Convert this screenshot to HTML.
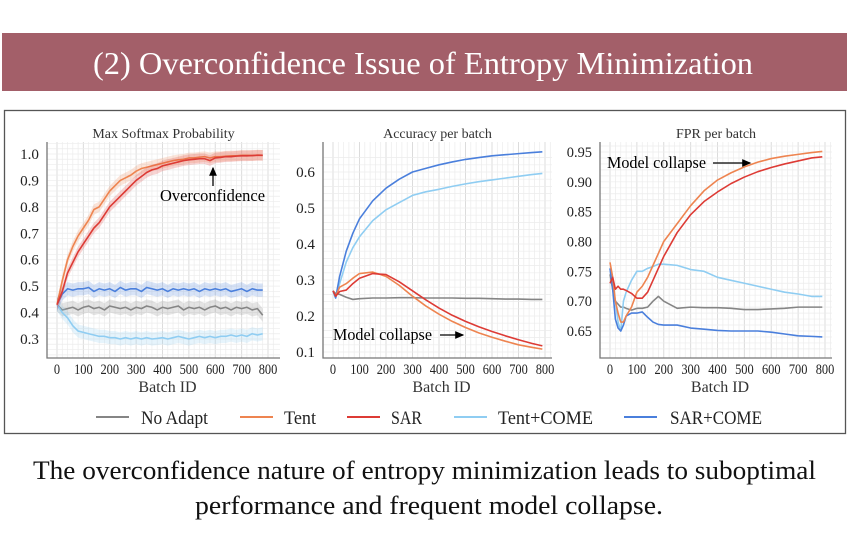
<!DOCTYPE html>
<html><head><meta charset="utf-8">
<style>
html,body{margin:0;padding:0;background:#fff;width:849px;height:555px;overflow:hidden;font-family:"Liberation Serif",serif;}
svg text{font-family:"Liberation Serif",serif;}
</style></head>
<body>
<svg id="root" width="849" height="555" xmlns="http://www.w3.org/2000/svg">
  <rect x="2" y="33" width="845" height="58" fill="#a35f69"/>
  <text x="93" y="74" textLength="660" lengthAdjust="spacingAndGlyphs" fill="#fff" font-size="32">(2) Overconfidence Issue of Entropy Minimization</text>
  <rect x="4.5" y="110.5" width="841" height="323" fill="none" stroke="#555" stroke-width="1.3"/>
  <g id="charts"></g>
  <g id="legend"></g>
  <text x="33" y="479" textLength="783" lengthAdjust="spacingAndGlyphs" font-size="26" fill="#111">The overconfidence nature of entropy minimization leads to suboptimal</text>
  <text x="195" y="514" textLength="468" lengthAdjust="spacingAndGlyphs" font-size="26" fill="#111">performance and frequent model collapse.</text>
</svg>
<script>
// ---- Chart 1: Max Softmax Probability ----
const c1x = [0,20,40,60,80,100,120,140,160,180,200,220,240,260,280,300,320,340,360,380,400,420,440,460,480,500,520,540,560,580,600,620,640,660,680,700,720,740,760,780];
const c1Tent = [0.43,0.52,0.60,0.65,0.69,0.72,0.75,0.79,0.80,0.83,0.86,0.88,0.90,0.91,0.92,0.935,0.945,0.95,0.955,0.96,0.965,0.97,0.975,0.978,0.98,0.985,0.985,0.988,0.99,0.985,0.99,0.99,0.992,0.993,0.993,0.995,0.995,0.994,0.996,0.995];
const c1SAR = [0.43,0.48,0.55,0.59,0.63,0.66,0.69,0.72,0.74,0.77,0.80,0.82,0.84,0.86,0.88,0.90,0.915,0.93,0.94,0.945,0.955,0.96,0.965,0.97,0.975,0.978,0.98,0.982,0.982,0.975,0.985,0.987,0.99,0.99,0.992,0.993,0.993,0.994,0.995,0.995];
const c1TentCome = [0.43,0.40,0.38,0.35,0.33,0.325,0.32,0.315,0.31,0.31,0.305,0.305,0.30,0.305,0.30,0.305,0.30,0.305,0.30,0.302,0.305,0.30,0.305,0.31,0.305,0.30,0.305,0.31,0.305,0.31,0.305,0.31,0.31,0.315,0.31,0.315,0.31,0.32,0.315,0.32];
const c1SarCome = [0.43,0.47,0.49,0.485,0.49,0.49,0.495,0.48,0.49,0.485,0.49,0.48,0.495,0.485,0.49,0.49,0.48,0.495,0.49,0.485,0.49,0.48,0.49,0.485,0.49,0.485,0.49,0.48,0.49,0.485,0.49,0.485,0.49,0.48,0.485,0.49,0.48,0.49,0.485,0.485];
const c1NoAdapt = [0.43,0.41,0.415,0.42,0.41,0.42,0.425,0.415,0.42,0.41,0.425,0.42,0.415,0.42,0.41,0.42,0.415,0.425,0.42,0.41,0.42,0.415,0.42,0.425,0.41,0.42,0.415,0.42,0.41,0.42,0.425,0.415,0.42,0.41,0.42,0.415,0.42,0.41,0.415,0.39];
const c1Yticks = [0.3,0.4,0.5,0.6,0.7,0.8,0.9,1.0];
const c1Ylabels = ["0.3","0.4","0.5","0.6","0.7","0.8","0.9","1.0"];
// ---- Chart 2: Accuracy per batch ----
const c2x = [0,10,25,50,75,100,150,200,250,300,350,400,450,500,550,600,650,700,750,790];
const c2SarCome = [0.27,0.25,0.31,0.38,0.43,0.47,0.52,0.555,0.58,0.60,0.61,0.62,0.628,0.635,0.64,0.645,0.648,0.651,0.654,0.656];
const c2TentCome = [0.27,0.25,0.29,0.35,0.39,0.42,0.465,0.495,0.515,0.535,0.545,0.552,0.56,0.567,0.573,0.578,0.583,0.588,0.593,0.596];
const c2SAR = [0.27,0.255,0.268,0.272,0.29,0.305,0.318,0.315,0.295,0.27,0.245,0.222,0.202,0.185,0.17,0.157,0.145,0.134,0.124,0.117];
const c2Tent = [0.27,0.255,0.28,0.29,0.305,0.318,0.322,0.31,0.285,0.255,0.228,0.205,0.185,0.168,0.153,0.141,0.13,0.12,0.113,0.108];
const c2NoAdapt = [0.27,0.262,0.26,0.252,0.246,0.248,0.25,0.25,0.251,0.251,0.25,0.25,0.25,0.249,0.249,0.248,0.247,0.247,0.246,0.246];
const c2Yticks = [0.1,0.2,0.3,0.4,0.5,0.6];
const c2Ylabels = ["0.1","0.2","0.3","0.4","0.5","0.6"];
// ---- Chart 3: FPR per batch ----
const c3x = [0,10,20,30,40,50,60,80,100,120,140,160,180,200,250,300,350,400,450,500,550,600,650,700,750,790];
const c3Tent = [0.765,0.74,0.70,0.68,0.665,0.665,0.675,0.69,0.715,0.725,0.74,0.76,0.78,0.80,0.83,0.86,0.885,0.903,0.915,0.925,0.933,0.939,0.943,0.946,0.949,0.951];
const c3SAR = [0.73,0.74,0.72,0.725,0.72,0.72,0.718,0.713,0.705,0.705,0.715,0.735,0.755,0.775,0.815,0.845,0.867,0.883,0.897,0.908,0.917,0.924,0.93,0.935,0.94,0.942];
const c3TentCome = [0.755,0.73,0.70,0.665,0.65,0.70,0.715,0.735,0.75,0.75,0.755,0.758,0.762,0.762,0.76,0.753,0.75,0.74,0.735,0.73,0.725,0.72,0.715,0.712,0.708,0.708];
const c3SarCome = [0.755,0.72,0.67,0.655,0.65,0.66,0.675,0.68,0.68,0.682,0.673,0.665,0.661,0.66,0.66,0.655,0.653,0.651,0.65,0.65,0.65,0.648,0.645,0.642,0.641,0.64];
const c3NoAdapt = [0.745,0.72,0.70,0.695,0.69,0.69,0.688,0.685,0.688,0.688,0.69,0.70,0.708,0.70,0.688,0.69,0.689,0.689,0.688,0.686,0.686,0.687,0.688,0.69,0.69,0.69];
const c3Yticks = [0.65,0.70,0.75,0.80,0.85,0.90,0.95];
const c3Ylabels = ["0.65","0.70","0.75","0.80","0.85","0.90","0.95"];
const xTicks = [0,100,200,300,400,500,600,700,800];
const legendNames = ["No Adapt","Tent","SAR","Tent+COME","SAR+COME"];

const COL = {na:"#858585", tent:"#ee8450", sar:"#dd3b35", tc:"#8fcdf2", sc:"#4a7fdc"};
const NS = "http://www.w3.org/2000/svg";
function mk(tag, attrs, parent){const e=document.createElementNS(NS,tag);for(const k in attrs)e.setAttribute(k,attrs[k]);parent.appendChild(e);return e;}
const charts = document.getElementById('charts');

function drawChart(cfg){
  const g = mk('g',{},charts);
  
  
  const X = v => cfg.x0 + (v/800)*(cfg.x1-cfg.x0);
  const Y = v => cfg.yA + (v-cfg.vA)/(cfg.vB-cfg.vA)*(cfg.yB-cfg.yA);
  const grid = mk('g',{},g);
  
  
  for(let v=0; v<=820; v+=20){const px=X(v); if(px<cfg.left||px>cfg.right) continue;
    mk('line',{x1:px,x2:px,y1:cfg.top,y2:cfg.bottom,stroke:(v%100===0)?'#dcdcdc':'#ececec','stroke-width':(v%100===0)?1:0.7},grid);}
  const step=(cfg.yt[1]-cfg.yt[0])/5;
  for(let v=cfg.yt[0]-step*3; v<=cfg.yt[cfg.yt.length-1]+step*3; v+=step){const py=Y(v); if(py<cfg.top||py>cfg.bottom) continue;
    mk('line',{x1:cfg.left,x2:cfg.right,y1:py,y2:py,stroke:'#ececec','stroke-width':0.7},grid);}
  const ax = mk('path',{d:`M${cfg.left},${cfg.top} V${cfg.bottom} H${cfg.right}`,fill:'none',stroke:'#777','stroke-width':1.3},g);
  
  
  const t = mk('text',{x:(cfg.left+cfg.right)/2,y:138,'text-anchor':'middle','font-size':14,fill:'#333'},g);
  t.textContent=cfg.title;
  
  
  cfg.yt.forEach((v,i)=>{const tt=mk('text',{x:cfg.left-8,y:Y(v)+5,'text-anchor':'end','font-size':15,fill:'#222',textLength:cfg.yl[i].length*6.3,lengthAdjust:'spacingAndGlyphs'},g);tt.textContent=cfg.yl[i];
    
    });
  xTicks.forEach(v=>{const s=String(v);const tt=mk('text',{x:X(v),y:374,'text-anchor':'middle','font-size':15,fill:'#222',textLength:s.length*6.2,lengthAdjust:'spacingAndGlyphs'},g);tt.textContent=s;
    
    });
  const xl = mk('text',{x:(cfg.left+cfg.right)/2+4,y:392,'text-anchor':'middle','font-size':16,fill:'#333'},g);
  xl.textContent='Batch ID';
  
  
  cfg.series.forEach(s=>{
    const pts = cfg.xs.map((xv,i)=>[X(xv),Y(s.v[i])]);
    if(s.band){
      const up = cfg.xs.map((xv,i)=>`${X(xv)},${Y(s.v[i]+s.band)}`);
      const dn = cfg.xs.map((xv,i)=>`${X(xv)},${Y(s.v[i]-s.band)}`).reverse();
      const b = mk('polygon',{points:up.concat(dn).join(' '),fill:s.c,opacity:0.22},g);
      
      
    }
    const p = mk('polyline',{points:pts.map(p=>p.join(',')).join(' '),fill:'none',stroke:s.c,'stroke-width':1.6,'stroke-linejoin':'round'},g);
    
    
  });
  return g;
}
drawChart({name:'max-softmax-chart',title:'Max Softmax Probability',left:47,right:280,top:142,bottom:358,x0:57,x1:268,vA:1.0,yA:154,vB:0.3,yB:339,yt:c1Yticks,yl:c1Ylabels,xs:c1x,
  series:[{n:'no-adapt',v:c1NoAdapt,c:COL.na,band:0.025},{n:'tent-come',v:c1TentCome,c:COL.tc,band:0.025},{n:'sar-come',v:c1SarCome,c:COL.sc,band:0.025},{n:'tent',v:c1Tent,c:COL.tent,band:0.02},{n:'sar',v:c1SAR,c:COL.sar,band:0.02}]});
drawChart({name:'accuracy-chart',title:'Accuracy per batch',left:323,right:552,top:142,bottom:358,x0:333,x1:545,vA:0.6,yA:172,vB:0.1,yB:352,yt:c2Yticks,yl:c2Ylabels,xs:c2x,
  series:[{n:'no-adapt',v:c2NoAdapt,c:COL.na},{n:'tent-come',v:c2TentCome,c:COL.tc},{n:'sar-come',v:c2SarCome,c:COL.sc},{n:'tent',v:c2Tent,c:COL.tent},{n:'sar',v:c2SAR,c:COL.sar}]});
drawChart({name:'fpr-chart',title:'FPR per batch',left:600,right:832,top:142,bottom:358,x0:610,x1:825,vA:0.95,yA:152,vB:0.65,yB:331,yt:c3Yticks,yl:c3Ylabels,xs:c3x,
  series:[{n:'no-adapt',v:c3NoAdapt,c:COL.na},{n:'tent-come',v:c3TentCome,c:COL.tc},{n:'sar-come',v:c3SarCome,c:COL.sc},{n:'tent',v:c3Tent,c:COL.tent},{n:'sar',v:c3SAR,c:COL.sar}]});

const ann = mk('g',{},charts);


mk('defs',{},ann).innerHTML='<marker id="ah" markerWidth="8" markerHeight="8" refX="6" refY="4" orient="auto"><path d="M0,1 L7,4 L0,7 z" fill="#000"/></marker>';
function annText(x,y,s,w,nm){const t=mk('text',{x:x,y:y,'font-size':17,fill:'#000',textLength:w,lengthAdjust:'spacingAndGlyphs'},ann);t.textContent=s;
  
  }
annText(160,201,'Overconfidence',105,'overconfidence-label');
mk('line',{x1:213,y1:186,x2:213,y2:168,stroke:'#000','stroke-width':1.3,'marker-end':'url(#ah)'},ann);
annText(333,340,'Model collapse',99,'accuracy-collapse-label');
mk('line',{x1:440,y1:335,x2:463,y2:335,stroke:'#000','stroke-width':1.3,'marker-end':'url(#ah)'},ann);
annText(607,168,'Model collapse',99,'fpr-collapse-label');
mk('line',{x1:713,y1:163,x2:750,y2:163,stroke:'#000','stroke-width':1.3,'marker-end':'url(#ah)'},ann);

const leg = document.getElementById('legend');
const legCols=[COL.na,COL.tent,COL.sar,COL.tc,COL.sc];
const legX=[96,240,347,454,624];
const legTX=[141,284,391,498,670];
const legTW=[67,32,31,95,92];
legendNames.forEach((n,i)=>{
  const e = mk('g',{},leg);
  
  
  mk('line',{x1:legX[i],x2:legX[i]+33,y1:417,y2:417,stroke:legCols[i],'stroke-width':2},e);
  const t=mk('text',{x:legTX[i],y:424,'font-size':19,fill:'#222',textLength:legTW[i],lengthAdjust:'spacingAndGlyphs'},e);t.textContent=n;
});
</script>
</body></html>
